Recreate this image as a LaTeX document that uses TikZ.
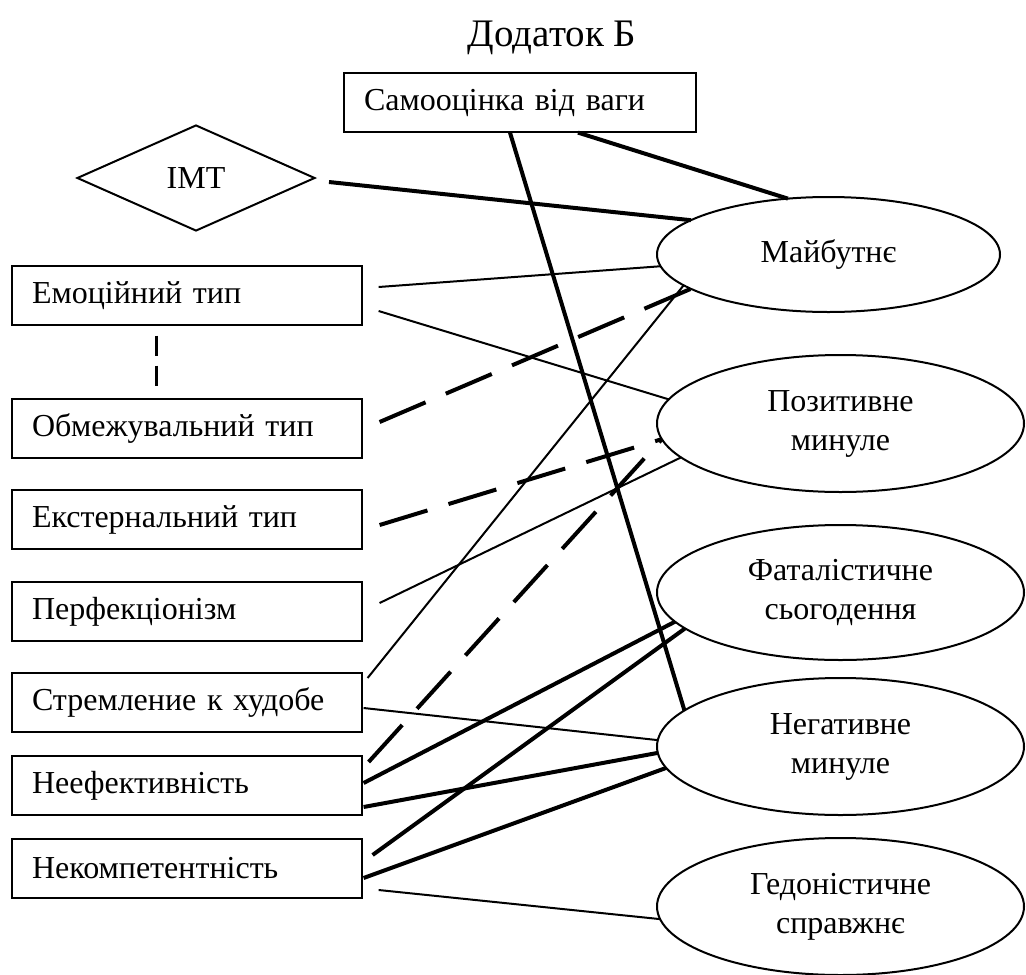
\documentclass[tikz,border=0pt]{standalone}
\usepackage{fontspec}
\setmainfont{Liberation Serif}
\usetikzlibrary{shapes.geometric}

\begin{document}
\begin{tikzpicture}[x=1pt,y=-1pt,
	factor/.style={draw, line width=1.2pt, text width=310pt, inner xsep=20pt, inner ysep=0pt, minimum height=59pt, align=left, font=\fontsize{32}{39}\selectfont},
	timebox/.style={draw, ellipse, line width=2pt, minimum width=367pt, minimum height=137pt, inner sep=0pt, outer sep=0pt, align=center, font=\fontsize{32}{39}\selectfont},
	thinlink/.style={line width=2pt},
	thicklink/.style={line width=4pt},
	dashlink/.style={line width=4pt, dash pattern=on 50pt off 22pt}]

	\useasboundingbox (0,0) rectangle (1026,975);

% заголовок
	\node[anchor=base, font=\fontsize{39}{44}\selectfont] (title) at (552,46) {Додаток Б};

% чинники
	\node[factor, text width=312pt] (self) at (520,102.5) {Самооцінка від ваги};
	\node[draw, diamond, line width=2pt, minimum width=238pt, minimum height=106pt, inner sep=0pt, font=\fontsize{32}{39}\selectfont] (imt) at (196,178) {IMT};
	\foreach \name/\y/\txt in {emo/295.5/Емоційний тип, lim/428.5/Обмежувальний тип, ext/519.5/Екстернальний тип, perf/611.5/Перфекціонізм, striv/702.5/Стремление к худобе, ineff/785.5/Неефективність, incomp/868.5/Некомпетентність}
		\node[factor] (\name) at (187,\y) {\txt};

% часова перспектива
	\node[timebox, minimum width=343pt, minimum height=115pt] (fut) at (828.5,254.5) {Майбутнє};
	\node[timebox] (pos) at (840.5,423.5) {Позитивне\\минуле};
	\node[timebox, minimum height=135pt] (fat) at (840.5,592.5) {Фаталістичне\\сьогодення};
	\node[timebox] (neg) at (840.5,746.5) {Негативне\\минуле};
	\node[timebox] (hed) at (840.5,906.5) {Гедоністичне\\справжнє};

% зв'язки
	\draw[thicklink] ([xshift=-10pt]self.south) -- (neg.167);
	\draw[thicklink] ([xshift=58pt]self.south) -- (fut.126);
	\draw[thicklink] ([xshift=13pt,yshift=-4pt]imt.east) -- (fut.166);
	\draw[thinlink] ([xshift=16pt,yshift=8.5pt]emo.east) -- (fut.184);
	\draw[thinlink] ([xshift=16pt,yshift=-15.5pt]emo.east) -- (pos.172);
	\draw[line width=3pt, dash pattern=on 20pt off 10pt] ([xshift=-31pt,yshift=-10pt]emo.south) -- ([xshift=-31pt,yshift=12pt]lim.north);
	\draw[dashlink] ([xshift=17pt,yshift=6.5pt]lim.east) -- (fut.194);
	\draw[dashlink] ([xshift=17pt,yshift=-5.5pt]ext.east) -- (pos.185);
	\draw[thinlink] ([xshift=17pt,yshift=8.5pt]perf.east) -- (pos.192);
	\draw[thinlink] ([xshift=5pt,yshift=24.5pt]striv.east) -- (fut.192);
	\draw[thinlink] ([xshift=1pt,yshift=-5.5pt]striv.east) -- (neg.178);
	\draw[dashlink] ([xshift=6pt,yshift=23.5pt]ineff.east) -- (pos.185);
	\draw[thicklink] ([xshift=1pt,yshift=2.5pt]ineff.east) -- (fat.190);
	\draw[thicklink] ([xshift=1pt,yshift=-21.5pt]ineff.east) -- (neg.182);
	\draw[thicklink] ([xshift=10pt,yshift=13.5pt]incomp.east) -- (fat.193);
	\draw[thicklink] ([xshift=1pt,yshift=-9.5pt]incomp.east) -- (neg.187);
	\draw[thinlink] ([xshift=16pt,yshift=-21.5pt]incomp.east) -- (hed.184);

\end{tikzpicture}
\end{document}
